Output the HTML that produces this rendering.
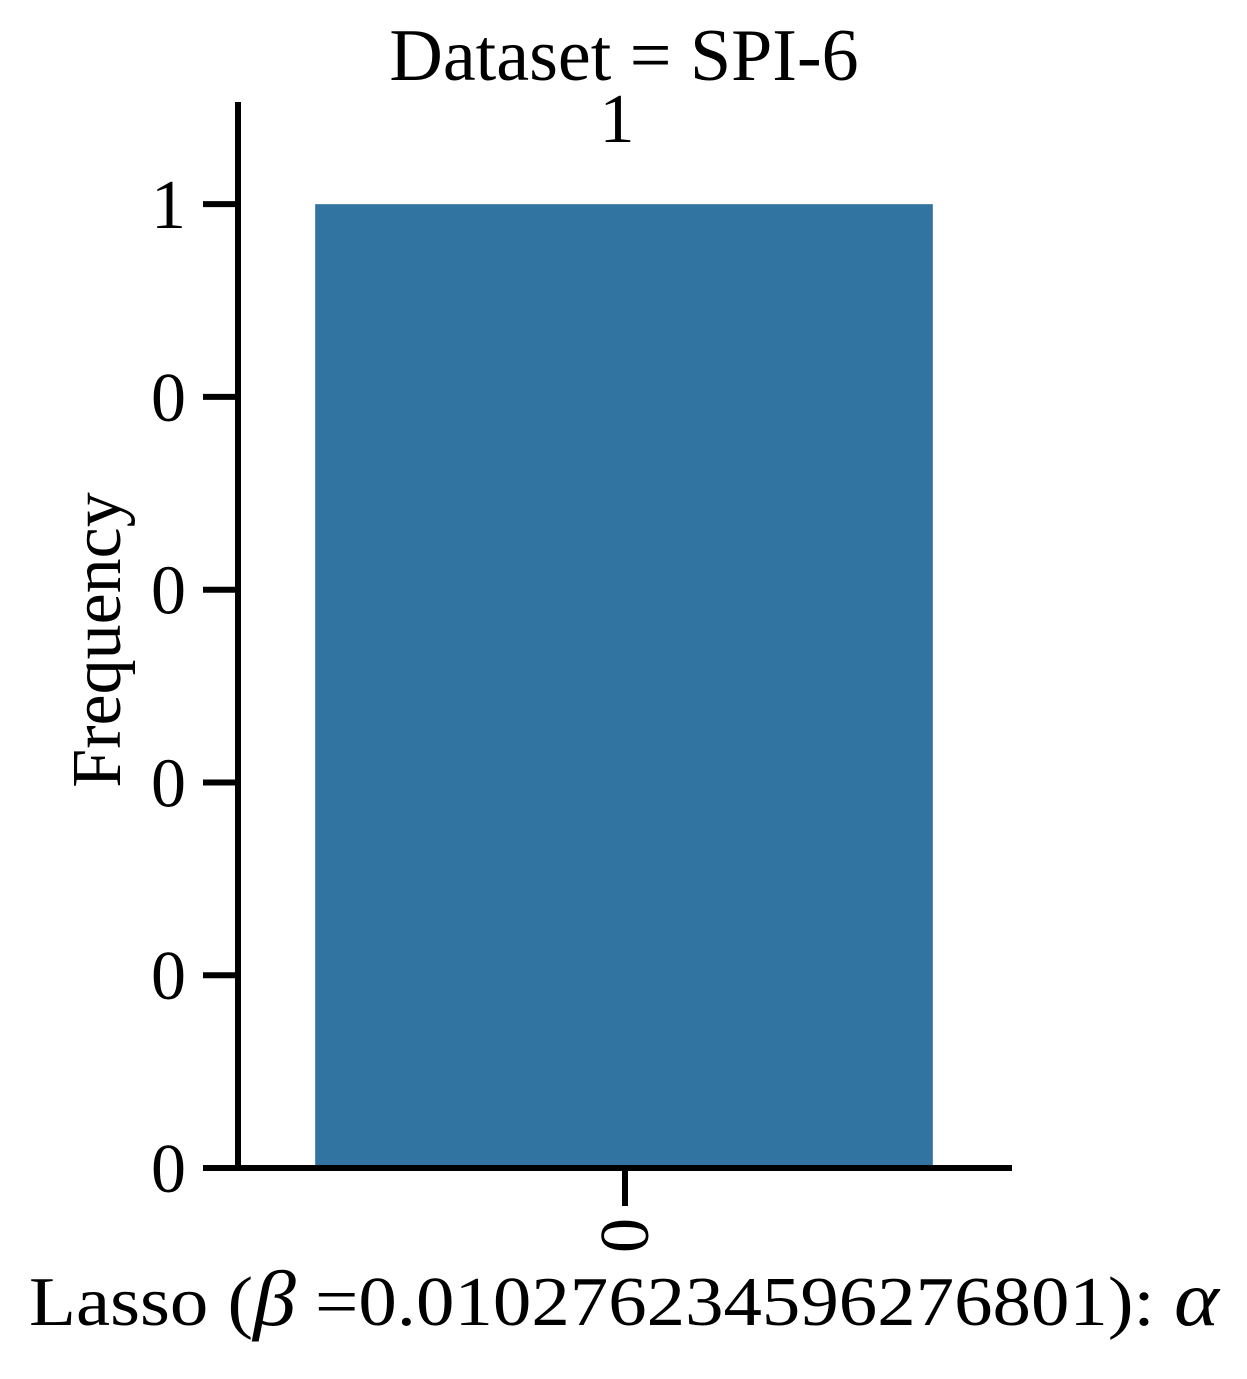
<!DOCTYPE html>
<html><head><meta charset="utf-8">
<style>
body{margin:0;background:#fff;}
svg text{font-family:"Liberation Serif",serif;fill:#000;}
</style></head>
<body>
<svg id="chart" width="1247" height="1374" xmlns="http://www.w3.org/2000/svg">
<text x="624" y="80" font-size="74" text-anchor="middle">Dataset = SPI-6</text>
<text transform="translate(120,640) rotate(-90)" font-size="70" text-anchor="middle">Frequency</text>
<text x="624" y="1325" font-size="70" text-anchor="middle" textLength="1190" lengthAdjust="spacingAndGlyphs">Lasso (<tspan font-style="italic" font-size="78">β</tspan> =0.010276234596276801): <tspan font-style="italic" font-size="78">α</tspan></text>
<g id="plot"></g>
</svg>
<script>
const categories = ["0"];
const values = [1];
const yTicks = [0, 0.2, 0.4, 0.6, 0.8, 1.0];
const yTickLabels = ["0","0","0","0","0","1"];
const barLabels = ["1"];

const NS = "http://www.w3.org/2000/svg";
const g = document.getElementById("plot");
const x0 = 238, x1 = 1012, yBase = 1168, yTop = 102, yMax = 1.106;
const y = v => yBase - v / yMax * (yBase - yTop);
const band = (x1 - x0) / categories.length;
const xc = i => x0 + band * (i + 0.5);
function mk(tag, attrs, text){const e=document.createElementNS(NS,tag);for(const k in attrs)e.setAttribute(k,attrs[k]);if(text!==undefined)e.textContent=text;g.appendChild(e);return e;}

values.forEach((v,i)=>{
  const w = band*0.798;
  const r = mk("rect",{x:xc(i)-w/2-1,y:y(v),width:w,height:yBase-y(v),fill:"#3274a1"});
  
  
  const t = mk("text",{x:xc(i)-8,y:y(v)-62,"font-size":70,"text-anchor":"middle"},barLabels[i]);
  
  
  const tk = mk("line",{x1:xc(i),x2:xc(i),y1:yBase,y2:yBase+38,stroke:"#000","stroke-width":6});
  
  
  const tl = mk("text",{transform:`translate(${xc(i)+23},${yBase+50}) rotate(-90)`,"font-size":70,"text-anchor":"end"},categories[i]);
  
  
});
yTicks.forEach((v,i)=>{
  const l = mk("line",{x1:203,x2:x0,y1:y(v),y2:y(v),stroke:"#000","stroke-width":6});
  
  
  const t = mk("text",{x:186,y:y(v)+24,"font-size":70,"text-anchor":"end"},yTickLabels[i]);
  
  
});
const ya = mk("line",{x1:x0,x2:x0,y1:yTop,y2:yBase+3,stroke:"#000","stroke-width":6});


const xa = mk("line",{x1:x0-3,x2:x1,y1:yBase,y2:yBase,stroke:"#000","stroke-width":6});


</script>
</body></html>
